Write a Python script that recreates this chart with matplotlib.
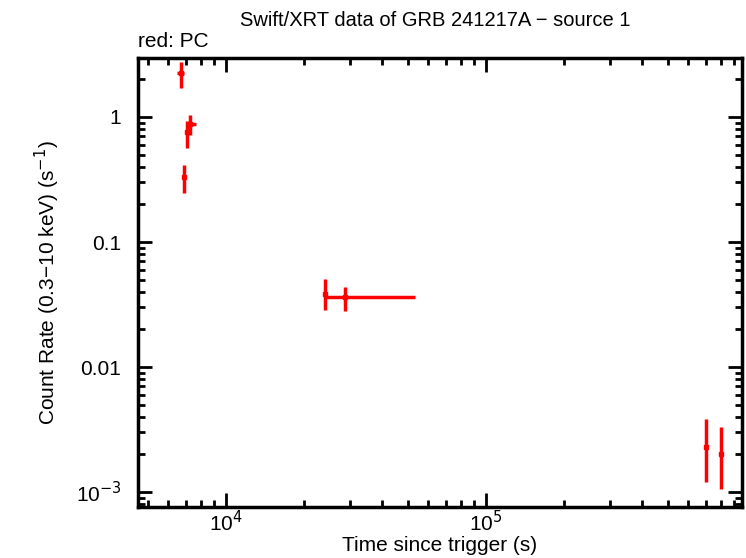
import numpy as np
import matplotlib.pyplot as plt
from matplotlib.ticker import FixedLocator, FixedFormatter, LogLocator, NullFormatter

plt.rcParams['font.family'] = ['Liberation Sans', 'DejaVu Sans']

# PC mode points (time in s, rate in counts/s)
t = np.array([6710, 7080, 7280, 6890, 24000, 28700, 7.0e5, 8.0e5])
t_lo = np.array([6500, 6950, 7130, 6800, 23700, 24260, 6.9e5, 7.93e5])
t_hi = np.array([6900, 7200, 7700, 6980, 24300, 53300, 7.12e5, 8.07e5])
rate = np.array([2.25, 0.76, 0.88, 0.33, 0.0384, 0.0363, 0.00229, 0.00201])
rate_lo = np.array([1.7, 0.565, 0.72, 0.246, 0.0286, 0.028, 0.0012, 0.00106])
rate_hi = np.array([2.75, 0.93, 1.04, 0.41, 0.0506, 0.0437, 0.00384, 0.00331])

yticks = [1e-3, 0.01, 0.1, 1]
ylabels = ['10$^{-3}$', '0.01', '0.1', '1']

fig = plt.figure(figsize=(7.46, 5.58), dpi=100)
ax = fig.add_axes([0.185, 0.0914, 0.8096, 0.8046])

ax.errorbar(t, rate, xerr=[t - t_lo, t_hi - t], yerr=[rate - rate_lo, rate_hi - rate],
            fmt='s', ms=2.5, color='red', ecolor='red', elinewidth=2.5, capsize=0)

ax.set_xscale('log')
ax.set_yscale('log')
ax.set_xlim(4590, 9.66e5)
ax.set_ylim(7.6e-4, 2.96)

ax.yaxis.set_major_locator(FixedLocator(yticks))
ax.yaxis.set_major_formatter(FixedFormatter(ylabels))
ax.yaxis.set_minor_locator(LogLocator(base=10, subs=np.arange(2, 10)))
ax.yaxis.set_minor_formatter(NullFormatter())
ax.xaxis.set_major_locator(FixedLocator([1e4, 1e5]))
ax.xaxis.set_major_formatter(FixedFormatter(['10$^4$', '10$^5$']))
ax.xaxis.set_minor_locator(LogLocator(base=10, subs=np.arange(2, 10)))
ax.xaxis.set_minor_formatter(NullFormatter())

for s in ax.spines.values():
    s.set_linewidth(2.5)
ax.tick_params(which='both', direction='in', top=True, right=True, width=2, labelsize=15)
ax.tick_params(axis='x', pad=2)
ax.tick_params(axis='y', pad=12)
ax.tick_params(which='major', length=10)
ax.tick_params(which='minor', length=5)

ax.set_xlabel('Time since trigger (s)', fontsize=15, labelpad=1)
ax.set_ylabel('Count Rate (0.3\u221210 keV) (s$^{-1}$)', fontsize=15, labelpad=10)
fig.text(0.583, 0.964, 'Swift/XRT data of GRB 241217A \u2212 source 1', ha='center', va='center', fontsize=14.5)
fig.text(0.185, 0.925, 'red: PC', ha='left', va='center', fontsize=15)

fig.savefig('out.png', dpi=100)
